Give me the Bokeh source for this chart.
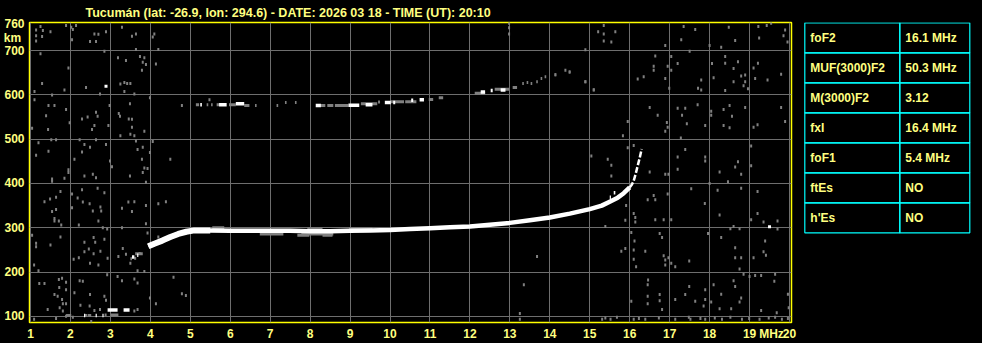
from bokeh.plotting import figure
from bokeh.models import Range1d, FixedTicker
from bokeh.layouts import row
from bokeh.embed import file_html
from bokeh.resources import INLINE
from bokeh.core.properties import value

TITLE = "Tucumán (lat: -26.9, lon: 294.6) - DATE: 2026 03 18 - TIME (UT): 20:10"
X_TICKS = list(range(1, 21))
Y_TICKS = [100, 200, 300, 400, 500, 600, 700, 760]
Y_GRID = [100, 200, 300, 400, 500, 600, 700]
X_UNIT, X_UNIT_AT = "MHz", 19.55
Y_UNIT, Y_UNIT_AT = "km", 729

# F2 ordinary trace (MHz, km)
f2_f = [3.95, 4.1, 4.3, 4.5, 4.7, 4.9, 5.1, 5.5, 6.0, 6.5, 7.0, 7.5, 8.0, 8.5, 9.0, 9.5, 10.0,
        10.5, 11.0, 11.5, 12.0, 12.5, 13.0, 13.5, 14.0, 14.5, 15.0, 15.3, 15.5, 15.7, 15.85, 16.0]
f2_h = [258, 264, 271, 279, 286, 291, 294, 294, 293, 293, 293, 293, 292, 292, 293, 294, 295,
        297, 299, 301, 303, 307, 311, 317, 323, 332, 342, 350, 359, 368, 378, 391]
cusp_f = [16.0, 16.05, 16.1, 16.15, 16.2, 16.25, 16.3]
cusp_h = [391, 397, 406, 422, 440, 458, 478]

# echo segments: start MHz, end MHz, height km
seg_white_f0 = [5.25, 5.72, 6.14, 8.14, 8.96, 9.39, 9.87, 10.08, 10.53, 10.74, 12.27, 12.52, 12.77,
                2.93, 3.33, 3.54, 3.67, 2.34, 2.63, 2.80, 15.6, 15.5]
seg_white_f1 = [5.29, 5.91, 6.35, 8.27, 9.23, 9.56, 10.02, 10.13, 10.58, 10.85, 12.38, 12.57, 12.89,
                3.18, 3.48, 3.60, 3.70, 2.37, 2.66, 2.83, 15.64, 15.53]
seg_white_h = [578, 578, 580, 576, 577, 578, 583, 583, 588, 589, 607, 610, 611,
               114, 114, 234, 238, 102, 102, 102, 379, 369]
seg_gray_f0 = [5.14, 5.41, 5.52, 5.66, 5.97, 6.35, 6.62, 7.16, 7.37, 7.62, 8.27, 8.43, 8.62, 9.27, 9.70,
               10.02, 10.38, 10.97, 11.22, 12.12, 12.62, 13.07, 13.31, 13.42, 13.52, 13.66, 13.77, 13.87,
               14.12, 14.47, 3.0, 1.89, 2.43, 3.62, 3.50, 6.74, 7.78, 5.55, 7.68, 8.31, 7.93, 8.98]
seg_gray_f1 = [5.22, 5.45, 5.56, 5.72, 6.14, 6.48, 6.66, 7.20, 7.41, 7.66, 8.38, 8.58, 8.96, 9.68, 9.75,
               10.35, 10.66, 11.08, 11.33, 12.38, 12.98, 13.18, 13.35, 13.46, 13.56, 13.70, 13.81, 13.91,
               14.16, 14.51, 3.2, 2.02, 2.52, 3.81, 3.54, 7.33, 8.58, 5.85, 7.98, 8.56, 8.31, 9.56]
seg_gray_h = [578, 578, 578, 578, 578, 576, 576, 576, 583, 583, 576, 576, 576, 580, 584,
              585, 585, 590, 594, 604, 613, 617, 626, 628, 626, 630, 637, 641,
              646, 652, 103, 102, 102, 241, 230, 286, 286, 300, 283, 283, 297, 297]

# scattered noise (MHz, km)
noise_f = [1.25, 1.14, 1.31, 1.14, 1.29, 1.50, 1.89, 2.02, 2.14, 2.06, 2.04, 1.14, 2.60, 2.70, 2.89, 2.49,
           2.64, 3.29, 3.54, 3.64, 4.10, 4.06, 3.64, 4.20, 2.85, 1.25, 1.95, 3.19, 3.39, 3.74, 3.85, 3.81,
           3.89, 4.14, 3.79, 1.29, 1.85, 2.39, 1.10, 1.10, 1.54, 2.74, 3.25, 3.35, 3.42, 3.50, 3.35, 3.60,
           3.99, 1.45, 1.60, 1.39, 1.89, 1.98, 2.29, 2.43, 2.64, 2.68, 2.98, 3.49, 3.21, 3.24, 3.46, 3.54,
           2.95, 2.60, 2.54, 3.54, 3.85, 3.50, 3.60, 3.25, 1.04, 1.44, 1.20, 1.14, 1.45, 1.52, 1.64, 2.23,
           2.35, 2.49, 2.29, 2.64, 2.89, 3.64, 3.81, 3.68, 3.99, 4.06, 3.79, 2.99, 3.04, 2.10, 1.95, 1.95,
           1.54, 1.54, 1.85, 2.35, 2.56, 2.64, 3.49, 3.85, 3.81, 3.93, 3.89, 4.50, 1.75, 1.64, 1.49, 1.35,
           2.04, 2.04, 2.18, 2.29, 2.31, 2.48, 2.56, 2.77, 2.85, 2.68, 2.75, 3.45, 3.29, 3.60, 3.89, 3.54,
           3.89, 1.54, 1.64, 1.60, 1.60, 1.71, 1.77, 2.21, 2.70, 2.81, 2.92, 3.29, 4.20, 4.39, 4.20, 1.04,
           1.75, 1.14, 1.14, 1.50, 2.08, 2.21, 2.35, 2.35, 2.58, 2.62, 2.46, 2.58, 2.75, 2.85, 2.49, 2.70,
           2.93, 3.20, 3.31, 3.39, 3.50, 3.62, 3.73, 3.93, 3.68, 3.85, 2.92, 3.18, 3.29, 3.60, 3.68, 1.09,
           1.20, 1.35, 1.22, 1.71, 1.79, 1.72, 1.89, 1.89, 2.23, 2.31, 1.60, 1.68, 1.79, 1.81, 1.89, 2.10,
           2.25, 2.48, 2.49, 2.85, 2.89, 2.74, 2.60, 1.73, 1.81, 1.43, 3.99, 4.14, 4.58, 4.79, 4.89, 2.06,
           2.39, 2.52, 2.88, 3.60, 3.68, 1.09, 1.64, 1.89, 1.96, 4.79, 5.48, 12.98, 12.98, 12.98, 13.68,
           13.35, 13.25, 13.25, 14.89, 15.10,
           15.35, 15.21, 15.35, 15.64, 15.35, 15.54, 14.89, 17.35, 17.64, 18.48, 18.64, 19.22, 19.43, 19.54,
           19.24, 19.85, 19.89, 19.95, 16.89, 17.29, 18.00, 18.29, 17.50, 14.14, 14.39, 14.50, 14.89, 15.10,
           16.64, 16.60, 16.60, 16.95, 17.04, 17.20, 17.04, 16.20, 16.35, 16.89, 16.99, 17.79, 17.79, 17.71,
           18.06, 18.10, 18.39, 18.39, 18.60, 18.71, 18.60, 18.39, 18.79, 18.89, 18.89, 18.96, 18.85, 19.10,
           19.14, 19.21, 19.45, 19.79, 16.50, 16.70, 17.20, 17.39, 17.31, 17.70, 18.04, 18.04, 18.35, 18.50,
           18.56, 18.35, 18.50, 18.89, 19.20, 19.10, 19.79, 19.89, 17.89, 17.43, 15.95, 15.83, 16.93, 16.95,
           16.89, 17.28, 17.39, 16.10, 15.95, 15.04, 15.45, 15.54, 15.54, 16.50, 16.89, 16.97, 17.20, 17.20,
           17.89, 17.89, 18.25, 18.71, 18.64, 18.79, 19.04, 19.04, 17.88, 17.54, 18.00, 18.46, 18.20, 18.79,
           19.20, 16.60, 16.64, 16.45, 16.95, 15.91, 16.10, 16.14, 16.14, 16.64, 16.85, 17.04, 15.89, 15.39,
           18.25, 18.52, 18.60, 18.75, 19.04, 19.20, 19.35, 19.70, 19.70, 16.04, 16.12, 16.39, 16.10, 15.89,
           15.79, 16.10, 16.16, 16.75, 16.81, 16.85, 16.89, 16.89, 16.97, 17.04, 17.14, 17.49, 17.96, 18.29,
           18.64, 18.79, 18.64, 18.75, 19.10, 19.35, 19.39, 19.41, 16.04, 16.46, 16.45, 16.45, 16.45, 16.75,
           16.75, 16.81, 17.14, 17.39, 17.49, 17.64, 17.89, 17.89, 17.85, 18.04, 18.10, 18.29, 18.25, 18.54,
           18.60, 18.64, 18.79, 18.75, 18.85, 19.00, 19.14, 19.29, 19.64, 19.62, 19.96, 19.98, 19.29, 19.68,
           15.31, 15.39, 15.52, 15.68, 16.10, 16.23, 16.39, 16.73, 17.14, 17.48, 17.52, 17.77, 17.89, 18.13,
           18.31, 18.52, 18.81, 18.99, 19.25, 19.48, 19.64, 19.81, 19.96]
noise_h = [755, 747, 746, 734, 732, 743, 757, 753, 757, 748, 725, 722, 738, 737, 743, 721,
           721, 753, 733, 738, 738, 731, 703, 703, 699, 693, 661, 684, 678, 687, 684, 674,
           669, 670, 656, 626, 611, 617, 608, 589, 600, 602, 625, 628, 626, 626, 608, 602,
           594, 576, 576, 553, 567, 537, 546, 550, 561, 552, 576, 580, 558, 552, 546, 545,
           531, 531, 522, 527, 518, 511, 508, 508, 525, 522, 492, 464, 473, 499, 499, 499,
           488, 482, 471, 499, 488, 496, 482, 477, 470, 495, 455, 451, 438, 455, 431, 425,
           410, 405, 412, 417, 421, 413, 417, 435, 425, 434, 403, 455, 382, 369, 365, 359,
           376, 345, 367, 386, 358, 354, 338, 338, 379, 389, 347, 358, 344, 359, 350, 337,
           309, 337, 341, 321, 315, 315, 306, 306, 315, 300, 297, 300, 354, 359, 279, 283,
           279, 265, 257, 261, 229, 232, 267, 246, 278, 267, 252, 241, 247, 274, 220, 216,
           231, 235, 253, 240, 220, 231, 242, 288, 203, 201, 194, 190, 180, 184, 175, 216,
           203, 174, 174, 183, 186, 165, 177, 160, 180, 179, 149, 145, 138, 128, 128, 153,
           125, 123, 149, 145, 136, 115, 113, 119, 112, 115, 141, 128, 188, 151, 147, 98,
           102, 88, 103, 112, 115, 93, 95, 100, 102, 576, 589, 762, 752, 738, 235,
           171, 106, 93, 630, 612,
           757, 743, 738, 743, 722, 720, 702, 755, 748, 753, 723, 755, 757, 762,
           729, 734, 747, 720, 712, 725, 712, 708, 699, 646, 656, 652, 630, 611,
           688, 665, 656, 665, 656, 671, 687, 636, 641, 637, 615, 634, 611, 615,
           671, 639, 687, 672, 660, 675, 630, 610, 643, 645, 630, 614, 621, 661,
           637, 672, 634, 647, 572, 554, 570, 570, 554, 578, 563, 554, 567, 576,
           552, 531, 526, 572, 533, 527, 572, 540, 531, 535, 540, 508, 538, 527,
           518, 503, 477, 486, 481, 462, 455, 441, 417, 426, 421, 421, 460, 432,
           460, 451, 426, 449, 437, 421, 485, 440, 355, 388, 400, 404, 385, 389,
           382, 373, 363, 363, 376, 350, 332, 323, 313, 318, 318, 318, 317, 303,
           329, 298, 303, 298, 318, 332, 313, 315, 297, 289, 270, 247, 250, 253,
           247, 229, 212, 287, 278, 237, 227, 216, 232, 220, 212, 225, 287, 278,
           232, 232, 255, 207, 232, 246, 270, 238, 134, 182, 171, 145, 128, 149,
           135, 115, 138, 149, 167, 134, 160, 138, 123, 132, 171, 150, 117, 117,
           180, 167, 141, 132, 195, 190, 192, 192, 195, 179, 150, 119, 113, 108,
           93, 96, 93, 98, 93, 95, 93, 96, 93, 98, 93, 95, 93, 96,
           93, 98, 93, 95, 93, 96, 98, 93, 95]
white_f = [2.89, 19.50]
white_h = [620, 302]

# scaled parameters table
params = ["foF2", "MUF(3000)F2", "M(3000)F2", "fxI", "foF1", "ftEs", "h'Es"]
values = ["16.1 MHz", "50.3 MHz", "3.12", "16.4 MHz", "5.4 MHz", "NO", "NO"]

YEL = "#ffff80"
FONT = value("Liberation Sans")
BT, BB = 22, 18

p = figure(width=800, height=343, output_backend="svg", toolbar_location=None,
           x_range=Range1d(0.975, 20.05), y_range=Range1d(85.9, 763.8),
           min_border_left=28, min_border_right=9, min_border_top=BT, min_border_bottom=BB,
           background_fill_color="black", border_fill_color="black",
           outline_line_color="#ffff00", outline_line_width=1.5,
           styles={"background-color": "black"})
p.title.text = TITLE
p.title.align = "left"
p.title.offset = 56
p.title.standoff = 6
p.title.text_color = YEL
p.title.text_font = "Liberation Sans"
p.title.text_font_style = "bold"
p.title.text_font_size = "12.5px"

for ax in (p.xaxis[0], p.yaxis[0]):
    ax.axis_line_color = None
    ax.major_tick_line_color = None
    ax.minor_tick_line_color = None
    ax.major_tick_out = 0
    ax.major_tick_in = 0
    ax.minor_tick_out = 0
    ax.minor_tick_in = 0
    ax.axis_label_standoff = 0
    ax.major_label_text_color = YEL
    ax.major_label_text_font = "Liberation Sans"
    ax.major_label_text_font_style = "bold"
    ax.major_label_text_font_size = "12px"
p.xaxis.ticker = FixedTicker(ticks=X_TICKS + [X_UNIT_AT])
p.xaxis.major_label_overrides = {X_UNIT_AT: X_UNIT}
p.yaxis.ticker = FixedTicker(ticks=Y_TICKS + [Y_UNIT_AT])
p.yaxis.major_label_overrides = {Y_UNIT_AT: Y_UNIT + "\u00a0"}
p.xaxis.major_label_standoff = 4
p.yaxis.major_label_standoff = 5
p.xgrid.ticker = FixedTicker(ticks=X_TICKS)
p.ygrid.ticker = FixedTicker(ticks=Y_GRID)
p.grid.grid_line_color = "#6e6e6e"
p.grid.grid_line_width = 1

p.rect(x=noise_f, y=noise_h, width=2, height=3, width_units="screen", height_units="screen",
       fill_color="#808080", line_color=None)
p.segment(x0=seg_gray_f0, y0=seg_gray_h, x1=seg_gray_f1, y1=seg_gray_h,
          line_color="#808080", line_width=3)
p.segment(x0=seg_white_f0, y0=seg_white_h, x1=seg_white_f1, y1=seg_white_h,
          line_color="white", line_width=3.5)
p.line(f2_f[:8], f2_h[:8], line_color="white", line_width=6)
p.line(f2_f, f2_h, line_color="white", line_width=4.5)
p.line(cusp_f, cusp_h, line_color="white", line_width=2.5, line_dash="6 2")
p.rect(x=white_f, y=white_h, width=3, height=3, width_units="screen", height_units="screen",
       fill_color="white", line_color=None)

# table figure; its frame is aligned with the main frame (22..325 px)
t = figure(width=182, height=343, output_backend="svg", toolbar_location=None,
           x_range=Range1d(0, 182), y_range=Range1d(343 - BB, BT),
           x_axis_location=None, y_axis_location=None,
           min_border_left=0, min_border_right=0, min_border_top=BT, min_border_bottom=BB,
           background_fill_color="black", border_fill_color="black",
           outline_line_color=None, styles={"background-color": "black"})
t.center = []
left, mid, right, top, rh = 4.3, 99.3, 169.3, 22.3, 30.3
n = len(params)
tops = [top + i * rh for i in range(n)]
bots = [top + (i + 1) * rh for i in range(n)]
t.quad(left=[left] * n, right=[mid] * n, top=tops, bottom=bots, fill_color=None,
       line_color="#00ffff", line_width=1.2)
t.quad(left=[mid] * n, right=[right] * n, top=tops, bottom=bots, fill_color=None,
       line_color="#00ffff", line_width=1.2)
cy = [top + (i + 0.5) * rh for i in range(n)]
t.text(x=[left + 5.5] * n, y=cy, text=params, text_color=YEL, text_font=FONT,
       text_font_style="bold", text_font_size="12px", text_baseline="middle")
t.text(x=[mid + 5.5] * n, y=cy, text=values, text_color=YEL, text_font=FONT,
       text_font_style="bold", text_font_size="12px", text_baseline="middle")

layout = row(p, t, styles={"background-color": "black"})
open("out.html", "w").write(file_html(layout, INLINE))
